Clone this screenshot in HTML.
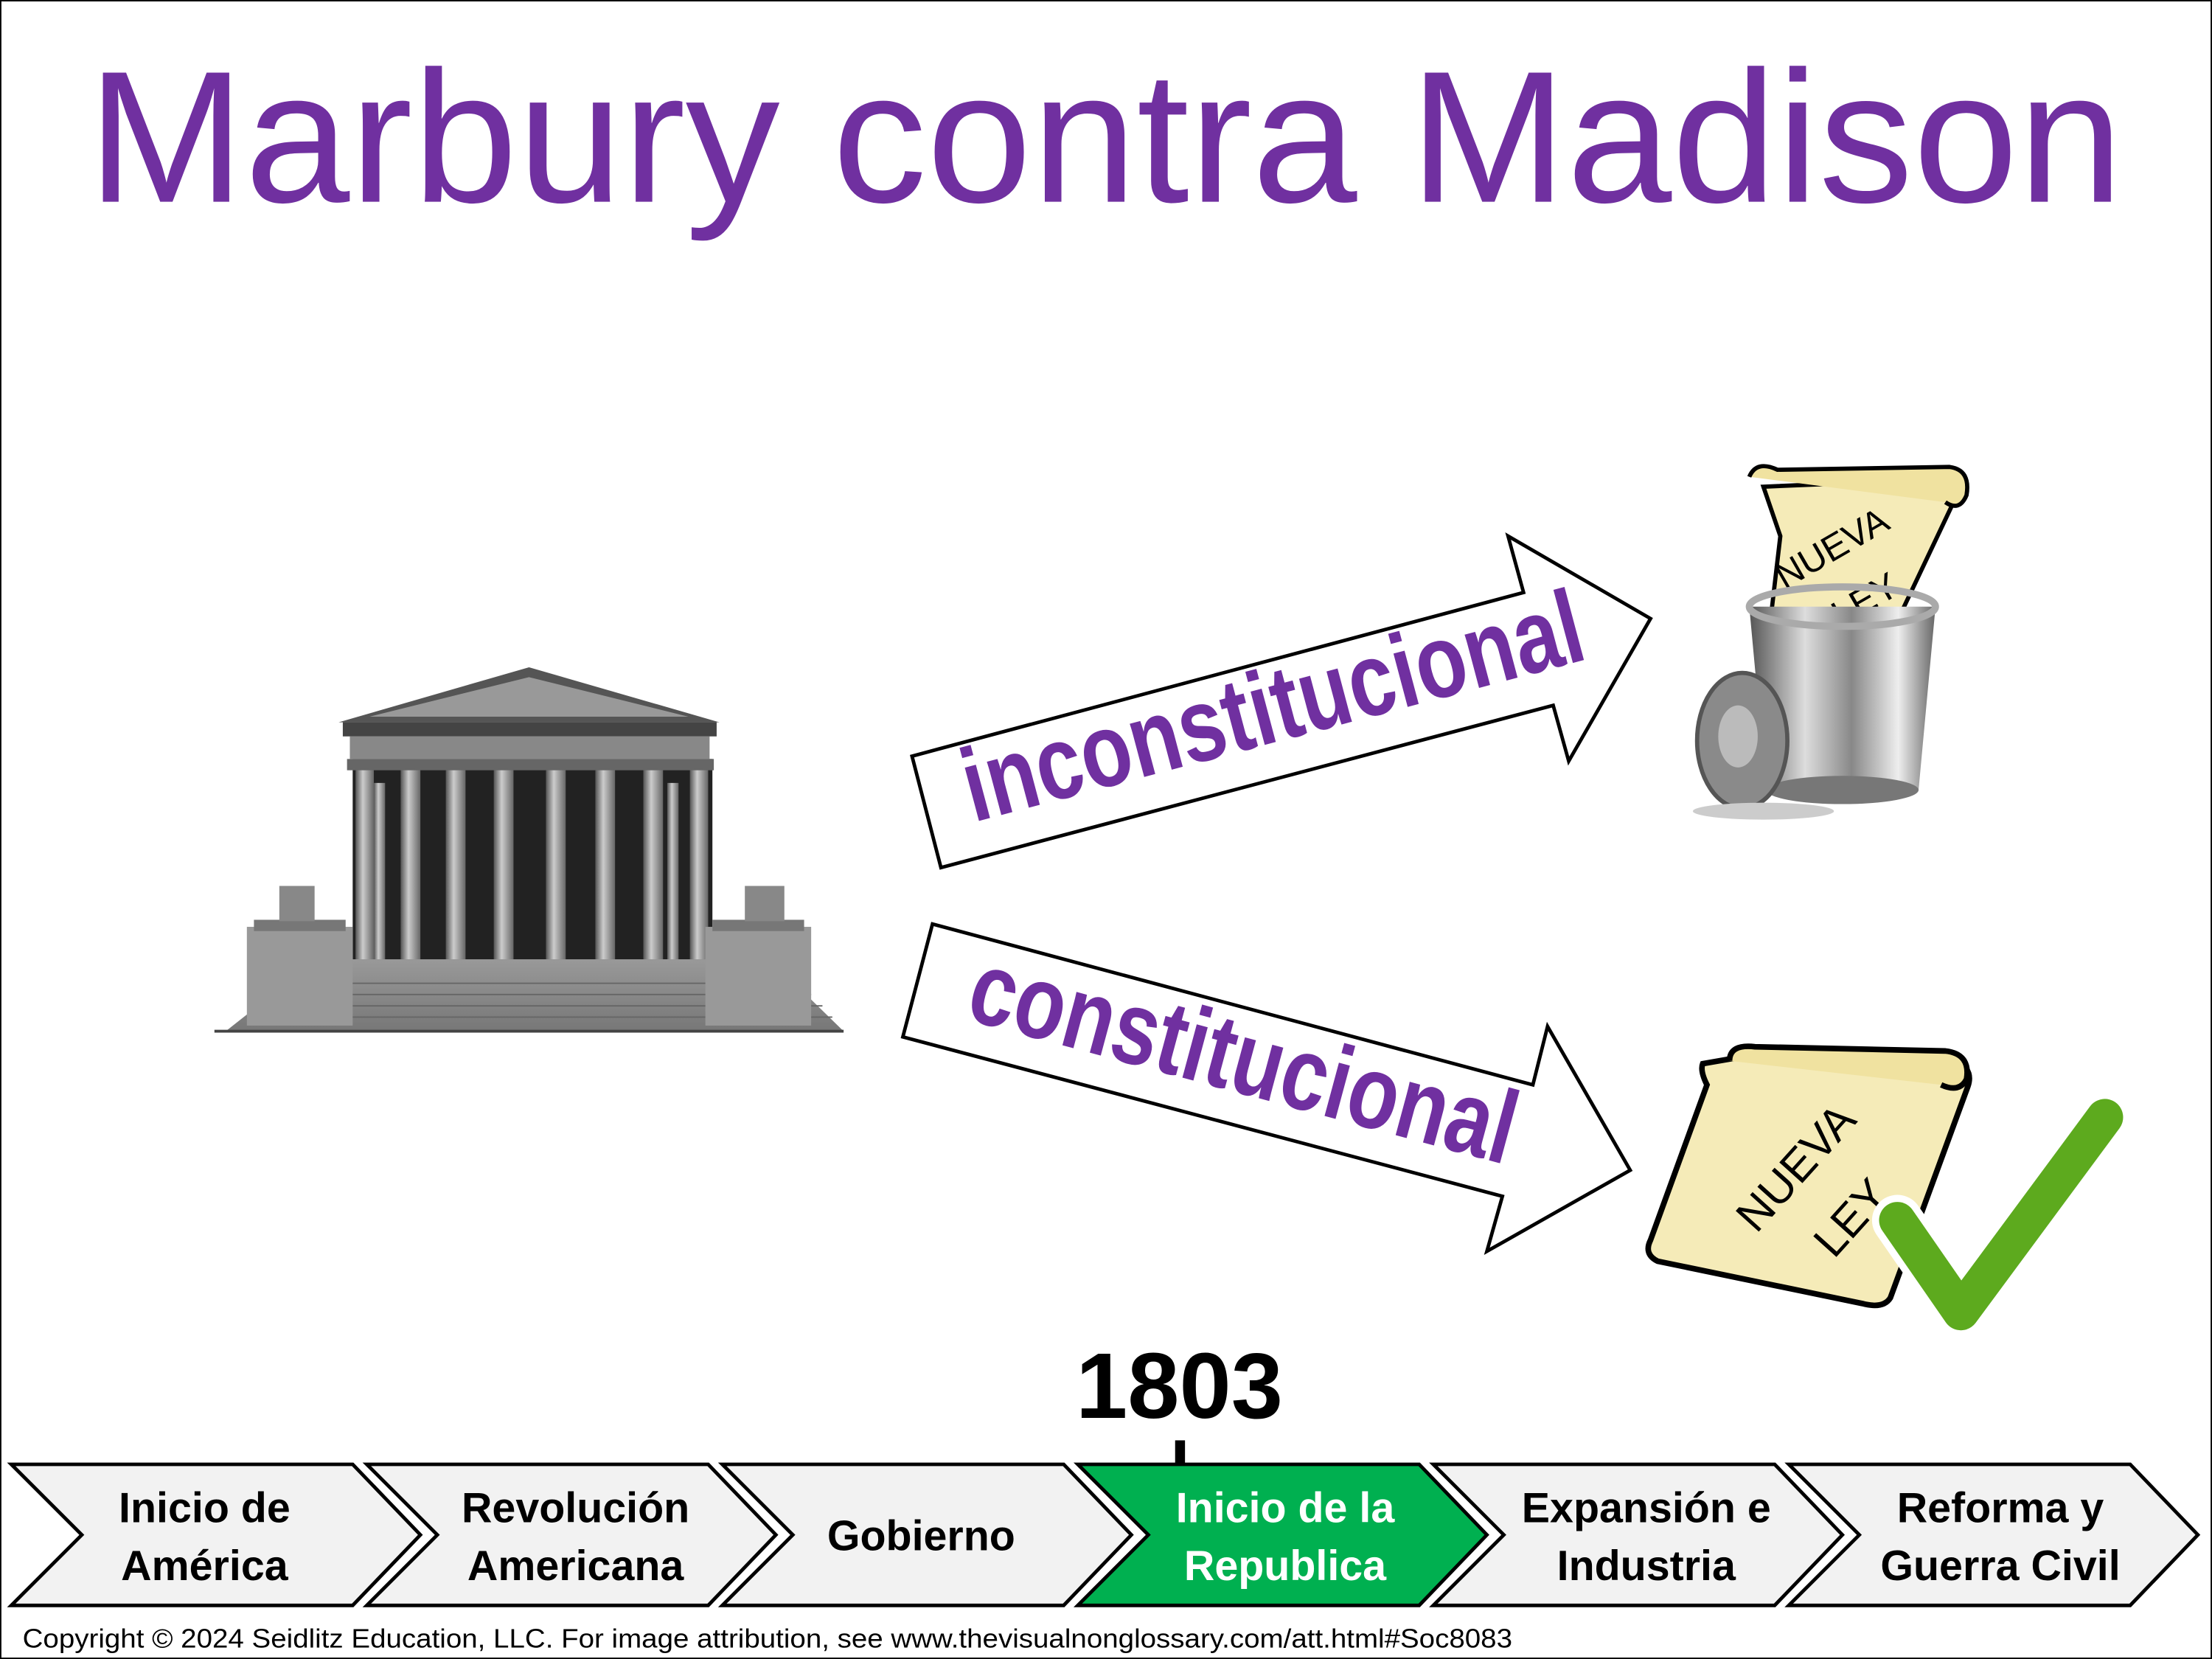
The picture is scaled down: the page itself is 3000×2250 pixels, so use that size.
<!DOCTYPE html>
<html><head><meta charset="utf-8"><style>
html,body{margin:0;padding:0;background:#fff;}
svg{display:block;}
</style></head><body>
<svg width="3000" height="2250" viewBox="0 0 1568 1176" xmlns="http://www.w3.org/2000/svg">
<defs>
<linearGradient id="col" x1="0" x2="1" y1="0" y2="0"><stop offset="0" stop-color="#555"/><stop offset="0.4" stop-color="#ccc"/><stop offset="1" stop-color="#666"/></linearGradient>
<linearGradient id="can" x1="0" x2="1" y1="0" y2="0"><stop offset="0" stop-color="#555"/><stop offset="0.3" stop-color="#ddd"/><stop offset="0.55" stop-color="#888"/><stop offset="0.8" stop-color="#eee"/><stop offset="1" stop-color="#666"/></linearGradient>
<linearGradient id="steps" x1="0" x2="0" y1="0" y2="1"><stop offset="0" stop-color="#999"/><stop offset="1" stop-color="#777"/></linearGradient>
</defs>
<rect x="0" y="0" width="1568" height="1176" fill="#fff" stroke="#000" stroke-width="2"/>
<text x="62" y="143" font-family="Liberation Sans, sans-serif" font-size="133" fill="#7030A0" textLength="1443" lengthAdjust="spacingAndGlyphs">Marbury contra Madison</text>

<!-- courthouse -->
<g>
<polygon points="160,731 598,731 556,690 525,680 245,680 212,690" fill="url(#steps)"/>
<g stroke="#666" stroke-width="1">
<line x1="205" y1="697" x2="565" y2="697"/><line x1="195" y1="705" x2="575" y2="705"/><line x1="185" y1="713" x2="583" y2="713"/><line x1="175" y1="721" x2="590" y2="721"/>
</g>
<rect x="250" y="538" width="255" height="142" fill="#222"/>
<g fill="url(#col)">
<rect x="252" y="545" width="13" height="135"/><rect x="284" y="545" width="14" height="135"/><rect x="316" y="545" width="14" height="135"/><rect x="350" y="545" width="14" height="135"/><rect x="387" y="545" width="14" height="135"/><rect x="422" y="545" width="14" height="135"/><rect x="456" y="545" width="14" height="135"/><rect x="489" y="545" width="13" height="135"/>
<rect x="473" y="555" width="8" height="125"/><rect x="265" y="555" width="8" height="125"/>
</g>
<rect x="246" y="538" width="260" height="8" fill="#666"/>
<rect x="248" y="522" width="255" height="16" fill="#888"/>
<rect x="243" y="512" width="265" height="10" fill="#444"/>
<polygon points="240,512 375,473 510,512" fill="#555"/>
<polygon points="262,508 375,480 488,508" fill="#999"/>
<rect x="175" y="657" width="75" height="70" fill="#999"/>
<rect x="500" y="657" width="75" height="70" fill="#999"/>
<rect x="180" y="652" width="65" height="8" fill="#777"/>
<rect x="505" y="652" width="65" height="8" fill="#777"/>
<rect x="198" y="628" width="25" height="25" fill="#888"/>
<rect x="528" y="628" width="28" height="25" fill="#888"/>
<line x1="152" y1="731" x2="598" y2="731" stroke="#444" stroke-width="2"/>
</g>

<!-- arrows -->
<polygon points="646.5,536 1080,420 1069,380 1170,438.5 1112,539.5 1101,500 667,615" fill="#fff" stroke="#000" stroke-width="2.5"/>
<text transform="translate(690,583) rotate(-14.9)" x="0" y="0" font-family="Liberation Sans, sans-serif" font-weight="bold" font-size="74" fill="#7030A0" textLength="452" lengthAdjust="spacingAndGlyphs">inconstitucional</text>
<polygon points="661,655 1086.6,769 1097,727.6 1155.6,829.5 1054,887 1065,848 640,735" fill="#fff" stroke="#000" stroke-width="2.5"/>
<text transform="translate(683,722) rotate(15.1)" x="0" y="0" font-family="Liberation Sans, sans-serif" font-weight="bold" font-size="74" fill="#7030A0" textLength="398" lengthAdjust="spacingAndGlyphs">constitucional</text>

<!-- trash can with scroll -->
<g>
<polygon points="1250,345 1370,340 1390,345 1345,440 1255,440 1262,380" fill="#F5EBB8" stroke="#000" stroke-width="3"/>
<path d="M1240,338 q5,-12 20,-5 l122,-2 q15,2 12,20 q-5,12 -15,5" fill="#F0E2A0" stroke="#000" stroke-width="3"/>
<text transform="translate(1265,418) rotate(-30)" font-family="Liberation Sans, sans-serif" font-size="26" fill="#000">NUEVA</text>
<text transform="translate(1305,445) rotate(-30)" font-family="Liberation Sans, sans-serif" font-size="26" fill="#000">LEY</text>
<polygon points="1240,430 1372,430 1360,560 1252,560" fill="url(#can)"/>
<ellipse cx="1306" cy="430" rx="66" ry="14" fill="none" stroke="#aaa" stroke-width="5"/>
<ellipse cx="1306" cy="560" rx="54" ry="10" fill="#777"/>
<ellipse cx="1235" cy="525" rx="32" ry="48" fill="#8a8a8a" stroke="#555" stroke-width="3"/>
<ellipse cx="1232" cy="522" rx="14" ry="22" fill="#bbb"/>
<ellipse cx="1250" cy="575" rx="50" ry="6" fill="#ccc"/>
</g>

<!-- scroll 2 -->
<g>
<path d="M1230,750 l150,0 q20,5 15,20 l-55,150 q-5,8 -20,4 l-145,-30 q-10,-5 -5,-15 l40,-110 q-5,-10 -3,-15 z" fill="#F5EBB8" stroke="#000" stroke-width="4"/>
<path d="M1226,752 q0,-12 18,-10 l135,3 q18,2 15,20 q-5,10 -18,4" fill="#F0E2A0" stroke="#000" stroke-width="4"/>
<text transform="translate(1245,875) rotate(-48)" font-family="Liberation Sans, sans-serif" font-size="32" fill="#000">NUEVA</text>
<text transform="translate(1300,893) rotate(-48)" font-family="Liberation Sans, sans-serif" font-size="32" fill="#000">LEY</text>
<path d="M1345,865 L1390,930 L1492,792" fill="none" stroke="#fff" stroke-width="36" stroke-linecap="round" stroke-linejoin="round"/>
<path d="M1345,865 L1390,930 L1492,792" fill="none" stroke="#5DAA1E" stroke-width="26" stroke-linecap="round" stroke-linejoin="round"/>
</g>

<!-- timeline -->
<text x="836" y="1005" text-anchor="middle" font-family="Liberation Sans, sans-serif" font-weight="bold" font-size="66" fill="#000">1803</text>
<rect x="833" y="1021" width="7" height="18" fill="#000"/>
<g stroke="#000" stroke-width="2.5" font-family="Liberation Sans, sans-serif">
<polygon points="8,1038 250,1038 298,1088 250,1138 8,1138 58,1088" fill="#F2F2F2"/>
<polygon points="260,1038 502,1038 550,1088 502,1138 260,1138 310,1088" fill="#F2F2F2"/>
<polygon points="512,1038 754,1038 802,1088 754,1138 512,1138 562,1088" fill="#F2F2F2"/>
<polygon points="764,1038 1006,1038 1054,1088 1006,1138 764,1138 814,1088" fill="#00B050"/>
<polygon points="1016,1038 1258,1038 1306,1088 1258,1138 1016,1138 1066,1088" fill="#F2F2F2"/>
<polygon points="1268,1038 1510,1038 1558,1088 1510,1138 1268,1138 1318,1088" fill="#F2F2F2"/>
</g>
<g font-family="Liberation Sans, sans-serif" font-weight="bold" font-size="30" text-anchor="middle" fill="#000">
<text x="145" y="1079">Inicio de</text><text x="145" y="1120">América</text>
<text x="408" y="1079">Revolución</text><text x="408" y="1120">Americana</text>
<text x="653" y="1099">Gobierno</text>
<text x="911" y="1079" fill="#fff">Inicio de la</text><text x="911" y="1120" fill="#fff">Republica</text>
<text x="1167" y="1079">Expansión e</text><text x="1167" y="1120">Industria</text>
<text x="1418" y="1079">Reforma y</text><text x="1418" y="1120">Guerra Civil</text>
</g>
<text x="16" y="1168" font-family="Liberation Sans, sans-serif" font-size="19" fill="#000" textLength="1056" lengthAdjust="spacingAndGlyphs">Copyright © 2024 Seidlitz Education, LLC.  For image attribution, see www.thevisualnonglossary.com/att.html#Soc8083</text>
</svg>
</body></html>
